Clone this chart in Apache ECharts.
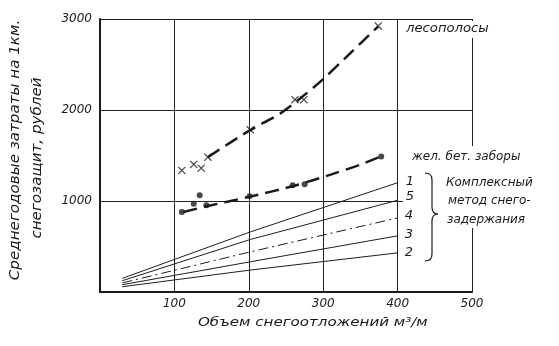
<!DOCTYPE html>
<html><head><meta charset="utf-8">
<script src="https://cdn.jsdelivr.net/npm/echarts@6/dist/echarts.min.js"></script>
<style>html,body{margin:0;padding:0;background:#fff}#c{width:559px;height:346px}</style>
</head><body><div id="c"></div>
<script>
// x: snow deposit volume, m3/m ; y: average annual cost per 1 km, roubles
const xAxisRange = [0, 500];
const yAxisRange = [0, 3000];
const forestPoints = [[110,1336],[126,1402],[136,1361],[145,1482],[202,1782],[262,2114],[274,2114],[374,2924]];
const forestCurve  = [[145,1482],[200,1770],[242,1960],[268,2120],[300,2340],[332,2590],[374,2920]];
const fencePoints  = [[110,880],[126,971],[134,1062],[143,953],[201,1051],[259,1172],[275,1183],[378,1490]];
const fenceCurve   = [[112,880],[145,945],[200,1045],[260,1165],[310,1290],[350,1400],[378,1490]];
const line1 = [[30,150],[202,660],[400,1201]];
const line5 = [[30,124],[202,577],[400,1008]];
const line4 = [[30,100],[202,441],[400,814]];
const line3 = [[30,80],[202,332],[400,617]];
const line2 = [[30,58],[202,241],[400,430]];

const FONT = '"DejaVu Sans", sans-serif';
const INK = '#1a1a1a';
const chart = echarts.init(document.getElementById('c'));
const crossPath = 'path://M0,1L1,0L5,4L9,0L10,1L6,5L10,9L9,10L5,6L1,10L0,9L4,5Z';
function txt(text, x, y, size, align, extra) {
  return Object.assign({
    type: 'text', x: x, y: y, z: 110,
    style: { text: text, fill: INK, font: 'italic ' + size + 'px ' + FONT, textAlign: align || 'left', textVerticalAlign: 'middle' }
  }, extra || {});
}
function thin(data, dash) {
  return { type: 'line', data: data, symbol: 'none', silent: true,
    lineStyle: { color: '#1e1e1e', width: 1, type: dash || 'solid' } };
}
function bz(x1, y1, cx, cy, x2, y2) {
  return { type: 'bezierCurve', z: 110, shape: { x1: x1, y1: y1, cpx1: cx, cpy1: cy, x2: x2, y2: y2 },
    style: { fill: 'none', stroke: INK, lineWidth: 1.2 } };
}
function ln(x1, y1, x2, y2) {
  return { type: 'line', z: 110, shape: { x1: x1, y1: y1, x2: x2, y2: y2 }, style: { stroke: INK, lineWidth: 1.2 } };
}
chart.setOption({
  animation: false,
  backgroundColor: '#fff',
  grid: { left: 100, right: 87, top: 19, bottom: 54 },
  xAxis: {
    type: 'value', min: xAxisRange[0], max: xAxisRange[1], interval: 100,
    axisLine: { lineStyle: { color: INK, width: 2 } },
    axisTick: { show: false },
    axisLabel: { showMinLabel: false, margin: 6, color: INK, fontFamily: FONT, fontStyle: 'italic', fontSize: 12, formatter: v => String(v) },
    splitLine: { lineStyle: { color: '#222', width: 1 } }
  },
  yAxis: {
    type: 'value', min: yAxisRange[0], max: yAxisRange[1], interval: 1000,
    axisLine: { lineStyle: { color: INK, width: 2 } },
    axisTick: { show: false },
    axisLabel: { showMinLabel: false, margin: 8, color: INK, fontFamily: FONT, fontStyle: 'italic', fontSize: 12, formatter: v => String(v) },
    splitLine: { lineStyle: { color: '#222', width: 1 } }
  },
  series: [
    { type: 'line', data: forestCurve, smooth: 0.3, symbol: 'none', lineStyle: { color: INK, width: 2.5, type: [14, 7] } },
    { type: 'scatter', data: forestPoints, symbol: crossPath, symbolSize: 8, itemStyle: { color: INK } },
    { type: 'line', data: fenceCurve, smooth: 0.3, symbol: 'none', lineStyle: { color: INK, width: 2.5, type: [14, 7] } },
    { type: 'scatter', data: fencePoints, symbol: 'circle', symbolSize: 6, itemStyle: { color: INK } },
    thin(line1), thin(line5), thin(line4, [10, 4, 2, 4]), thin(line3), thin(line2)
  ],
  graphic: [
    { type: 'rect', z: 100, shape: { x: 403, y: 146, width: 156, height: 82 }, style: { fill: '#fff' } },
    { type: 'rect', z: 100, shape: { x: 404, y: 21, width: 90, height: 17 }, style: { fill: '#fff' } },
    txt('Среднегодовые затраты на 1км.', 15, 150, 14, 'center', { rotation: Math.PI / 2, scaleX: 1.08 }),
    txt('снегозащит, рублей', 37, 158, 14, 'center', { rotation: Math.PI / 2, scaleX: 1.08 }),
    txt('Объем снегоотложений м³/м', 198, 323, 13, 'left', { scaleX: 1.16 }),
    txt('лесополосы', 406, 29, 12, 'left', { scaleX: 1.1 }),
    txt('жел. бет. заборы', 412, 157, 12, 'left'),
    txt('1', 410, 182, 13, 'center'),
    txt('5', 410, 197, 13, 'center'),
    txt('4', 409, 216, 13, 'center'),
    txt('3', 409, 235, 13, 'center'),
    txt('2', 409, 253, 13, 'center'),
    txt('Комплексный', 446, 183, 12, 'left'),
    txt('метод снего-', 448, 201, 12, 'left'),
    txt('задержания', 447, 220, 12, 'left'),
    bz(425, 173, 432, 173, 432, 180), ln(432, 180, 432, 207), bz(432, 207, 432, 214, 438, 214),
    bz(438, 214, 432, 214, 432, 221), ln(432, 221, 432, 254), bz(432, 254, 432, 261, 425, 261)
  ]
});
</script></body></html>
